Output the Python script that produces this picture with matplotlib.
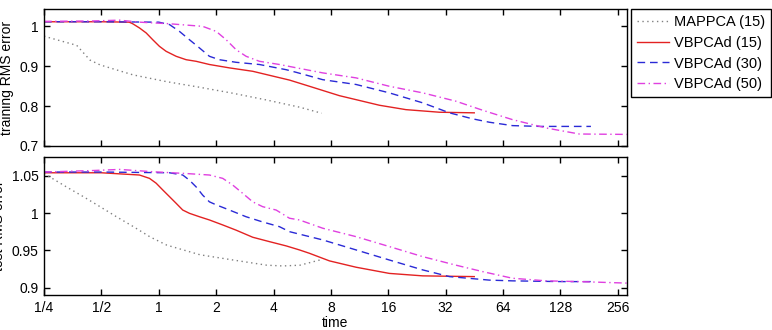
import matplotlib
matplotlib.use('Agg')
import matplotlib.pyplot as plt
from matplotlib.ticker import FixedLocator, FixedFormatter, NullLocator

plt.rcParams['font.family'] = ['Liberation Sans', 'DejaVu Sans']
plt.rcParams['font.size'] = 10

# ---- data (time, RMS error) ----
# training error
t_map_tr = [0.25, 0.258, 0.371, 0.436, 0.492, 0.733, 1.10, 1.64, 2.45, 3.69, 5.50, 7.15]
e_map_tr = [0.975, 0.973, 0.952, 0.915, 0.903, 0.878, 0.861, 0.847, 0.832, 0.815, 0.797, 0.782]

t_v15_tr = [0.25, 0.50, 0.70, 0.73, 0.792, 0.859, 0.930, 1.008, 1.093, 1.234, 1.392, 1.571,
            1.844, 2.349, 3.112, 3.962, 4.85, 6.17, 8.86, 10.84, 14.37, 19.8, 29.7, 45.2]
e_v15_tr = [1.011, 1.011, 1.010, 1.006, 0.9955, 0.983, 0.966, 0.9495, 0.937, 0.9245, 0.916, 0.912,
            0.904, 0.8955, 0.887, 0.875, 0.865, 0.8495, 0.826, 0.816, 0.802, 0.791, 0.7845, 0.783]

t_v30_tr = [0.25, 0.50, 1.0, 1.138, 1.283, 1.449, 1.635, 1.844, 2.08, 2.546, 3.373, 4.66,
            5.30, 7.25, 10.84, 16.2, 24.25, 33.5, 44.3, 54.2, 71.7, 100.0, 185.0]
e_v30_tr = [1.011, 1.011, 1.010, 1.004, 0.987, 0.966, 0.9455, 0.9245, 0.916, 0.9095, 0.904, 0.891,
            0.884, 0.866, 0.854, 0.833, 0.808, 0.783, 0.768, 0.7595, 0.751, 0.749, 0.749]

t_v50_tr = [0.25, 0.45, 0.623, 0.792, 1.138, 1.70, 2.0, 2.257, 2.546, 2.873, 3.373, 4.296,
            5.30, 7.25, 10.84, 16.2, 24.25, 36.3, 50.0, 71.7, 108.0, 160.8, 285.0]
e_v50_tr = [1.012, 1.013, 1.015, 1.010, 1.006, 0.9995, 0.987, 0.966, 0.941, 0.9245, 0.912, 0.904,
            0.8955, 0.883, 0.8705, 0.8495, 0.833, 0.812, 0.7895, 0.766, 0.745, 0.730, 0.729]

# test error
t_map_te = [0.25, 0.258, 0.328, 0.402, 0.492, 0.60, 0.733, 0.90, 1.10, 1.645, 2.45, 3.69,
            4.48, 5.50, 7.0]
e_map_te = [1.053, 1.051, 1.035, 1.022, 1.0085, 0.995, 0.982, 0.968, 0.957, 0.944, 0.937, 0.930,
            0.929, 0.930, 0.937]

t_v15_te = [0.25, 0.50, 0.792, 0.894, 0.969, 1.049, 1.138, 1.234, 1.336, 1.449, 1.635, 1.844,
            2.166, 2.546, 3.112, 3.81, 4.66, 5.47, 6.17, 7.86, 10.84, 16.2, 24.25, 45.2]
e_v15_te = [1.054, 1.054, 1.051, 1.0465, 1.040, 1.031, 1.022, 1.013, 1.004, 0.9996, 0.995, 0.9907,
            0.984, 0.977, 0.9675, 0.9616, 0.9559, 0.9505, 0.946, 0.9358, 0.9273, 0.919, 0.9157, 0.9147]

t_v30_te = [0.25, 0.50, 1.138, 1.336, 1.449, 1.571, 1.70, 1.844, 2.0, 2.349, 2.873, 3.51,
            4.296, 4.85, 7.25, 10.84, 16.2, 24.25, 33.5, 54.2, 71.7, 130.0, 186.0]
e_v30_te = [1.055, 1.055, 1.054, 1.051, 1.044, 1.035, 1.024, 1.015, 1.011, 1.004, 0.995, 0.988,
            0.9817, 0.975, 0.9639, 0.9505, 0.937, 0.9237, 0.9147, 0.910, 0.909, 0.908, 0.908]

t_v50_te = [0.25, 0.45, 0.623, 0.93, 1.392, 1.844, 2.166, 2.444, 2.757, 3.112, 3.51, 4.13,
            4.85, 5.47, 7.25, 10.84, 16.2, 24.25, 36.3, 50.0, 71.7, 108.0, 160.8, 285.0]
e_v50_te = [1.055, 1.057, 1.0585, 1.0554, 1.053, 1.051, 1.0465, 1.0375, 1.0264, 1.015, 1.0085, 1.004,
            0.993, 0.9907, 0.9796, 0.9683, 0.955, 0.9415, 0.930, 0.9214, 0.9125, 0.909, 0.908, 0.906]

labels = ['MAPPCA (15)', 'VBPCAd (15)', 'VBPCAd (30)', 'VBPCAd (50)']
xticks = [0.25, 0.5, 1, 2, 4, 8, 16, 32, 64, 128, 256]
xticklabels = ['1/4', '1/2', '1', '2', '4', '8', '16', '32', '64', '128', '256']

styles = [dict(color='#808080', lw=1.0, dashes=(1, 2.5)),
          dict(color='#e32222', lw=1.0),
          dict(color='#2a2ad6', lw=1.0, dashes=(5.5, 3.5)),
          dict(color='#e040e0', lw=1.0, dashes=(5.5, 2.5, 1, 2.5))]

fig = plt.figure(figsize=(7.72, 3.30), dpi=100)
ax1 = fig.add_axes([0.057, 0.5576, 0.755, 0.4152])
ax2 = fig.add_axes([0.057, 0.106, 0.755, 0.419])

train = [(t_map_tr, e_map_tr), (t_v15_tr, e_v15_tr), (t_v30_tr, e_v30_tr), (t_v50_tr, e_v50_tr)]
test = [(t_map_te, e_map_te), (t_v15_te, e_v15_te), (t_v30_te, e_v30_te), (t_v50_te, e_v50_te)]

for (t, e), st, lab in zip(train, styles, labels):
    ax1.plot(t, e, label=lab, **st)
for (t, e), st in zip(test, styles):
    ax2.plot(t, e, **st)

for ax in (ax1, ax2):
    ax.set_xscale('log', base=2)
    ax.set_xlim(0.25, 285.6)
    ax.xaxis.set_major_locator(FixedLocator(xticks))
    ax.xaxis.set_minor_locator(NullLocator())
    ax.tick_params(direction='in', length=4, width=1, top=True, right=True, pad=4)
    for sp in ax.spines.values():
        sp.set_linewidth(1.0)

ax1.set_xticklabels([])
ax2.xaxis.set_major_formatter(FixedFormatter(xticklabels))

ax1.set_ylim(0.7, 1.043)
ax1.set_yticks([0.7, 0.8, 0.9, 1.0])
ax1.set_yticklabels(['0.7', '0.8', '0.9', '1'])
ax1.set_ylabel('training RMS error')

ax2.set_ylim(0.89, 1.0755)
ax2.set_yticks([0.9, 0.95, 1.0, 1.05])
ax2.set_yticklabels(['0.9', '0.95', '1', '1.05'])
ax2.set_ylabel('test RMS error')
ax2.set_xlabel('time', labelpad=1)

leg = ax1.legend(loc='upper left', bbox_to_anchor=(1.007, 1.0), borderaxespad=0,
                 fancybox=False, edgecolor='black', framealpha=1, handlelength=2.2,
                 handletextpad=0.35, labelspacing=0.47, borderpad=0.4, fontsize=10.5)
leg.get_frame().set_linewidth(1.0)

fig.savefig('out.png', dpi=100)
